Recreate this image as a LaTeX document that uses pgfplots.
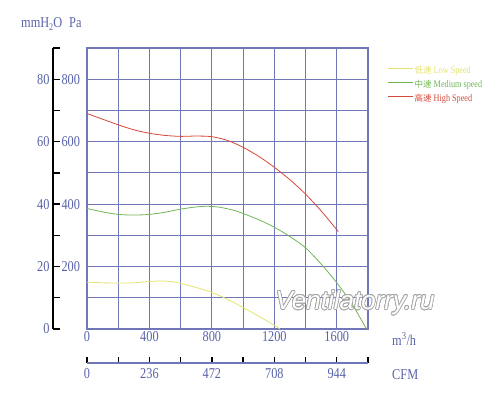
\documentclass[border=0pt]{standalone}
\usepackage{pgfplots}
\pgfplotsset{compat=1.18}
\usepackage{fontspec}
\setmainfont{Liberation Serif}[FakeStretch=0.82]
\newfontfamily\cjk{Noto Sans CJK SC}
\newfontfamily\wm{Liberation Sans}
\usepackage{contour}
\contourlength{0.7pt}
\definecolor{gridc}{RGB}{112,118,184}
\definecolor{txtc}{RGB}{88,98,168}
\definecolor{lowc}{RGB}{228,226,110}
\definecolor{medc}{RGB}{112,182,82}
\definecolor{highc}{RGB}{214,72,56}
\begin{document}
\begin{tikzpicture}[x=1pt,y=1pt]
\useasboundingbox (0,0) rectangle (500,409);
% left mmH2O labels
\begin{axis}[at={(53pt,80pt)}, anchor=south west, scale only axis, width=100pt, height=281pt,
  xmin=0, xmax=1, ymin=0, ymax=900, axis y line*=left, axis x line=none,
  y axis line style={draw=none},
  ytick={0,100,...,900}, yticklabels={0,,20,,40,,60,,80,},
  major tick length=0pt,
  yticklabel style={font=\fontsize{15}{15}\selectfont, text=txtc, anchor=east}]
\end{axis}
% left Pa axis
\begin{axis}[at={(53pt,80pt)}, anchor=south west, scale only axis, width=100pt, height=281pt,
  xmin=0, xmax=1, ymin=0, ymax=900, axis y line*=left, axis x line=none,
  y axis line style={black, line width=1.3pt, -},
  ytick={0,100,...,900}, yticklabels={,,200,,400,,600,,800,},
  tick align=inside, major tick length=7pt, tick style={black, line width=1.3pt},
  yticklabel style={font=\fontsize{15}{15}\selectfont, text=txtc, anchor=west, xshift=5pt}]
\end{axis}
% CFM axis
\begin{axis}[at={(87pt,46pt)}, anchor=south west, scale only axis, width=281pt, height=10pt,
  xmin=0, xmax=1800, ymin=0, ymax=1, axis x line*=bottom, axis y line=none,
  x axis line style={gridc, line width=1.1pt, -},
  xtick={0,200,...,1800}, xticklabels={0,,236,,472,,708,,944,},
  tick align=inside, major tick length=6pt, tick style={black, line width=1.3pt},
  xticklabel style={font=\fontsize{15}{15}\selectfont, text=txtc, yshift=-2pt}]
\end{axis}
% main axis
\begin{axis}[at={(87pt,80pt)}, anchor=south west, scale only axis, width=281pt, height=281pt,
  xmin=0, xmax=1800, ymin=0, ymax=900,
  xtick={0,200,...,1800}, ytick={0,100,...,900},
  xticklabels={0,,400,,800,,1200,,1600,}, yticklabels={},
  grid=major, major grid style={gridc, line width=1.1pt},
  axis line style={gridc, line width=1.1pt},
  major tick length=0pt,
  xticklabel style={font=\fontsize{15}{15}\selectfont, text=txtc, yshift=1pt},
  legend style={at={(1.07,0.94)}, anchor=north west, draw=none, fill=none,
    inner sep=0pt, row sep=3pt, cells={anchor=west},
    nodes={inner sep=1pt, text height=7pt, text depth=2pt, font=\fontsize{10}{10}\selectfont}},
  legend image code/.code={\draw[#1] (0pt,2pt) -- (25pt,2pt);},
  clip=false]
\addplot[lowc, line width=0.8pt, smooth] coordinates {
(0,150) (100,148) (200,147) (300,148) (400,152) (480,154) (550,151) (600,146) (700,133) (800,117) (900,95) (1000,69) (1100,41) (1200,12) (1235,0)};
\addlegendentry{\textcolor{lowc}{{\cjk\fontsize{8.5}{9}\selectfont 低速} Low Speed}}
\addplot[medc, line width=0.8pt, smooth] coordinates {
(0,386) (100,375) (200,367) (300,365) (400,367) (500,374) (600,384) (700,391) (770,393) (850,390) (950,379) (1000,370) (1100,350) (1200,326) (1300,296) (1400,260) (1500,208) (1600,148) (1700,78) (1790,0)};
\addlegendentry{\textcolor{medc}{{\cjk\fontsize{8.5}{9}\selectfont 中速} Medium speed}}
\addplot[highc, line width=0.8pt, smooth] coordinates {
(0,690) (100,672) (200,654) (300,638) (400,627) (500,620) (600,617) (700,618) (800,616) (900,604) (1000,582) (1100,553) (1200,518) (1300,478) (1400,432) (1500,378) (1610,312)};
\addlegendentry{\textcolor{highc}{{\cjk\fontsize{8.5}{9}\selectfont 高速} High Speed}}
\end{axis}
\node[anchor=west, inner sep=0pt, text=txtc, font=\fontsize{15}{15}\selectfont] at (21,385) {mmH\raisebox{-0.35ex}{\fontsize{10}{10}\selectfont 2}O\hspace{7pt}Pa};
\node[anchor=west, inner sep=0pt, text=txtc, font=\fontsize{15}{15}\selectfont] at (392,70) {m\textsuperscript{3}/h};
\node[anchor=west, inner sep=0pt, text=txtc, font=\fontsize{15}{15}\selectfont] at (392,34) {CFM};
\node[inner sep=0pt, font=\wm\itshape\fontsize{26}{26}\selectfont] at (355,106) {\contour{black!35}{\textcolor{white}{Ventilatorry.ru}}};
\end{tikzpicture}
\end{document}
